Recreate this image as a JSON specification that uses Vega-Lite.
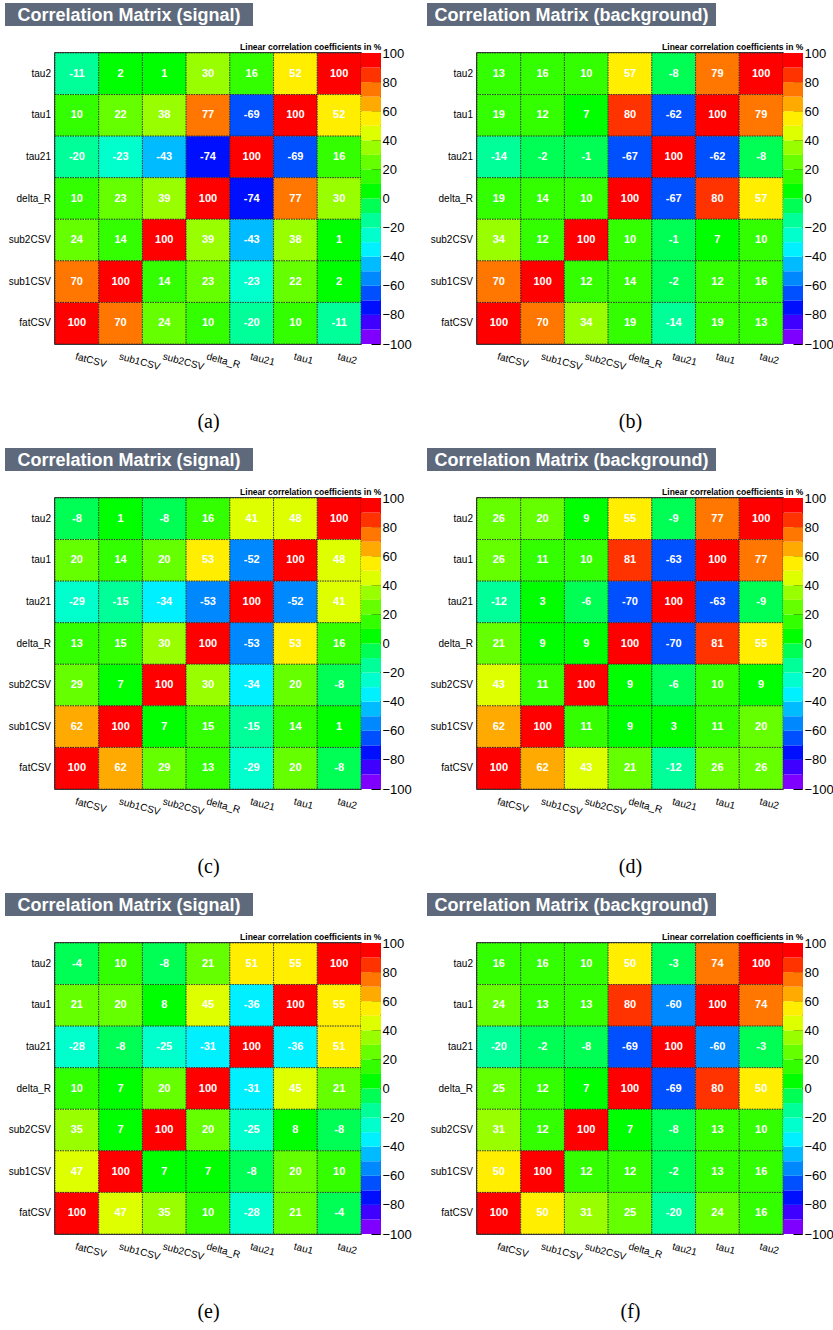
{
  "$schema": "https://vega.github.io/schema/vega-lite/v6.json",
  "padding": {"left": 5, "top": 3, "right": 0, "bottom": 0},
  "background": "white",
  "datasets": {
    "heads": [
      {"p": "a", "t": "Correlation Matrix (signal)"},
      {"p": "b", "t": "Correlation Matrix (background)"},
      {"p": "c", "t": "Correlation Matrix (signal)"},
      {"p": "d", "t": "Correlation Matrix (background)"},
      {"p": "e", "t": "Correlation Matrix (signal)"},
      {"p": "f", "t": "Correlation Matrix (background)"}
    ],
    "bins": [
      {"lo": -100, "hi": -90}, {"lo": -90, "hi": -80}, {"lo": -80, "hi": -70}, {"lo": -70, "hi": -60},
      {"lo": -60, "hi": -50}, {"lo": -50, "hi": -40}, {"lo": -40, "hi": -30}, {"lo": -30, "hi": -20},
      {"lo": -20, "hi": -10}, {"lo": -10, "hi": 0}, {"lo": 0, "hi": 10}, {"lo": 10, "hi": 20},
      {"lo": 20, "hi": 30}, {"lo": 30, "hi": 40}, {"lo": 40, "hi": 50}, {"lo": 50, "hi": 60},
      {"lo": 60, "hi": 70}, {"lo": 70, "hi": 80}, {"lo": 80, "hi": 90}, {"lo": 90, "hi": 100}
    ],
    "cells": [
      {"p":"a","r":"tau2","c":"fatCSV","v":-11},{"p":"a","r":"tau2","c":"sub1CSV","v":2},{"p":"a","r":"tau2","c":"sub2CSV","v":1},{"p":"a","r":"tau2","c":"delta_R","v":30},{"p":"a","r":"tau2","c":"tau21","v":16},{"p":"a","r":"tau2","c":"tau1","v":52},{"p":"a","r":"tau2","c":"tau2","v":100},
      {"p":"a","r":"tau1","c":"fatCSV","v":10},{"p":"a","r":"tau1","c":"sub1CSV","v":22},{"p":"a","r":"tau1","c":"sub2CSV","v":38},{"p":"a","r":"tau1","c":"delta_R","v":77},{"p":"a","r":"tau1","c":"tau21","v":-69},{"p":"a","r":"tau1","c":"tau1","v":100},{"p":"a","r":"tau1","c":"tau2","v":52},
      {"p":"a","r":"tau21","c":"fatCSV","v":-20},{"p":"a","r":"tau21","c":"sub1CSV","v":-23},{"p":"a","r":"tau21","c":"sub2CSV","v":-43},{"p":"a","r":"tau21","c":"delta_R","v":-74},{"p":"a","r":"tau21","c":"tau21","v":100},{"p":"a","r":"tau21","c":"tau1","v":-69},{"p":"a","r":"tau21","c":"tau2","v":16},
      {"p":"a","r":"delta_R","c":"fatCSV","v":10},{"p":"a","r":"delta_R","c":"sub1CSV","v":23},{"p":"a","r":"delta_R","c":"sub2CSV","v":39},{"p":"a","r":"delta_R","c":"delta_R","v":100},{"p":"a","r":"delta_R","c":"tau21","v":-74},{"p":"a","r":"delta_R","c":"tau1","v":77},{"p":"a","r":"delta_R","c":"tau2","v":30},
      {"p":"a","r":"sub2CSV","c":"fatCSV","v":24},{"p":"a","r":"sub2CSV","c":"sub1CSV","v":14},{"p":"a","r":"sub2CSV","c":"sub2CSV","v":100},{"p":"a","r":"sub2CSV","c":"delta_R","v":39},{"p":"a","r":"sub2CSV","c":"tau21","v":-43},{"p":"a","r":"sub2CSV","c":"tau1","v":38},{"p":"a","r":"sub2CSV","c":"tau2","v":1},
      {"p":"a","r":"sub1CSV","c":"fatCSV","v":70},{"p":"a","r":"sub1CSV","c":"sub1CSV","v":100},{"p":"a","r":"sub1CSV","c":"sub2CSV","v":14},{"p":"a","r":"sub1CSV","c":"delta_R","v":23},{"p":"a","r":"sub1CSV","c":"tau21","v":-23},{"p":"a","r":"sub1CSV","c":"tau1","v":22},{"p":"a","r":"sub1CSV","c":"tau2","v":2},
      {"p":"a","r":"fatCSV","c":"fatCSV","v":100},{"p":"a","r":"fatCSV","c":"sub1CSV","v":70},{"p":"a","r":"fatCSV","c":"sub2CSV","v":24},{"p":"a","r":"fatCSV","c":"delta_R","v":10},{"p":"a","r":"fatCSV","c":"tau21","v":-20},{"p":"a","r":"fatCSV","c":"tau1","v":10},{"p":"a","r":"fatCSV","c":"tau2","v":-11},

      {"p":"b","r":"tau2","c":"fatCSV","v":13},{"p":"b","r":"tau2","c":"sub1CSV","v":16},{"p":"b","r":"tau2","c":"sub2CSV","v":10},{"p":"b","r":"tau2","c":"delta_R","v":57},{"p":"b","r":"tau2","c":"tau21","v":-8},{"p":"b","r":"tau2","c":"tau1","v":79},{"p":"b","r":"tau2","c":"tau2","v":100},
      {"p":"b","r":"tau1","c":"fatCSV","v":19},{"p":"b","r":"tau1","c":"sub1CSV","v":12},{"p":"b","r":"tau1","c":"sub2CSV","v":7},{"p":"b","r":"tau1","c":"delta_R","v":80},{"p":"b","r":"tau1","c":"tau21","v":-62},{"p":"b","r":"tau1","c":"tau1","v":100},{"p":"b","r":"tau1","c":"tau2","v":79},
      {"p":"b","r":"tau21","c":"fatCSV","v":-14},{"p":"b","r":"tau21","c":"sub1CSV","v":-2},{"p":"b","r":"tau21","c":"sub2CSV","v":-1},{"p":"b","r":"tau21","c":"delta_R","v":-67},{"p":"b","r":"tau21","c":"tau21","v":100},{"p":"b","r":"tau21","c":"tau1","v":-62},{"p":"b","r":"tau21","c":"tau2","v":-8},
      {"p":"b","r":"delta_R","c":"fatCSV","v":19},{"p":"b","r":"delta_R","c":"sub1CSV","v":14},{"p":"b","r":"delta_R","c":"sub2CSV","v":10},{"p":"b","r":"delta_R","c":"delta_R","v":100},{"p":"b","r":"delta_R","c":"tau21","v":-67},{"p":"b","r":"delta_R","c":"tau1","v":80},{"p":"b","r":"delta_R","c":"tau2","v":57},
      {"p":"b","r":"sub2CSV","c":"fatCSV","v":34},{"p":"b","r":"sub2CSV","c":"sub1CSV","v":12},{"p":"b","r":"sub2CSV","c":"sub2CSV","v":100},{"p":"b","r":"sub2CSV","c":"delta_R","v":10},{"p":"b","r":"sub2CSV","c":"tau21","v":-1},{"p":"b","r":"sub2CSV","c":"tau1","v":7},{"p":"b","r":"sub2CSV","c":"tau2","v":10},
      {"p":"b","r":"sub1CSV","c":"fatCSV","v":70},{"p":"b","r":"sub1CSV","c":"sub1CSV","v":100},{"p":"b","r":"sub1CSV","c":"sub2CSV","v":12},{"p":"b","r":"sub1CSV","c":"delta_R","v":14},{"p":"b","r":"sub1CSV","c":"tau21","v":-2},{"p":"b","r":"sub1CSV","c":"tau1","v":12},{"p":"b","r":"sub1CSV","c":"tau2","v":16},
      {"p":"b","r":"fatCSV","c":"fatCSV","v":100},{"p":"b","r":"fatCSV","c":"sub1CSV","v":70},{"p":"b","r":"fatCSV","c":"sub2CSV","v":34},{"p":"b","r":"fatCSV","c":"delta_R","v":19},{"p":"b","r":"fatCSV","c":"tau21","v":-14},{"p":"b","r":"fatCSV","c":"tau1","v":19},{"p":"b","r":"fatCSV","c":"tau2","v":13},

      {"p":"c","r":"tau2","c":"fatCSV","v":-8},{"p":"c","r":"tau2","c":"sub1CSV","v":1},{"p":"c","r":"tau2","c":"sub2CSV","v":-8},{"p":"c","r":"tau2","c":"delta_R","v":16},{"p":"c","r":"tau2","c":"tau21","v":41},{"p":"c","r":"tau2","c":"tau1","v":48},{"p":"c","r":"tau2","c":"tau2","v":100},
      {"p":"c","r":"tau1","c":"fatCSV","v":20},{"p":"c","r":"tau1","c":"sub1CSV","v":14},{"p":"c","r":"tau1","c":"sub2CSV","v":20},{"p":"c","r":"tau1","c":"delta_R","v":53},{"p":"c","r":"tau1","c":"tau21","v":-52},{"p":"c","r":"tau1","c":"tau1","v":100},{"p":"c","r":"tau1","c":"tau2","v":48},
      {"p":"c","r":"tau21","c":"fatCSV","v":-29},{"p":"c","r":"tau21","c":"sub1CSV","v":-15},{"p":"c","r":"tau21","c":"sub2CSV","v":-34},{"p":"c","r":"tau21","c":"delta_R","v":-53},{"p":"c","r":"tau21","c":"tau21","v":100},{"p":"c","r":"tau21","c":"tau1","v":-52},{"p":"c","r":"tau21","c":"tau2","v":41},
      {"p":"c","r":"delta_R","c":"fatCSV","v":13},{"p":"c","r":"delta_R","c":"sub1CSV","v":15},{"p":"c","r":"delta_R","c":"sub2CSV","v":30},{"p":"c","r":"delta_R","c":"delta_R","v":100},{"p":"c","r":"delta_R","c":"tau21","v":-53},{"p":"c","r":"delta_R","c":"tau1","v":53},{"p":"c","r":"delta_R","c":"tau2","v":16},
      {"p":"c","r":"sub2CSV","c":"fatCSV","v":29},{"p":"c","r":"sub2CSV","c":"sub1CSV","v":7},{"p":"c","r":"sub2CSV","c":"sub2CSV","v":100},{"p":"c","r":"sub2CSV","c":"delta_R","v":30},{"p":"c","r":"sub2CSV","c":"tau21","v":-34},{"p":"c","r":"sub2CSV","c":"tau1","v":20},{"p":"c","r":"sub2CSV","c":"tau2","v":-8},
      {"p":"c","r":"sub1CSV","c":"fatCSV","v":62},{"p":"c","r":"sub1CSV","c":"sub1CSV","v":100},{"p":"c","r":"sub1CSV","c":"sub2CSV","v":7},{"p":"c","r":"sub1CSV","c":"delta_R","v":15},{"p":"c","r":"sub1CSV","c":"tau21","v":-15},{"p":"c","r":"sub1CSV","c":"tau1","v":14},{"p":"c","r":"sub1CSV","c":"tau2","v":1},
      {"p":"c","r":"fatCSV","c":"fatCSV","v":100},{"p":"c","r":"fatCSV","c":"sub1CSV","v":62},{"p":"c","r":"fatCSV","c":"sub2CSV","v":29},{"p":"c","r":"fatCSV","c":"delta_R","v":13},{"p":"c","r":"fatCSV","c":"tau21","v":-29},{"p":"c","r":"fatCSV","c":"tau1","v":20},{"p":"c","r":"fatCSV","c":"tau2","v":-8},

      {"p":"d","r":"tau2","c":"fatCSV","v":26},{"p":"d","r":"tau2","c":"sub1CSV","v":20},{"p":"d","r":"tau2","c":"sub2CSV","v":9},{"p":"d","r":"tau2","c":"delta_R","v":55},{"p":"d","r":"tau2","c":"tau21","v":-9},{"p":"d","r":"tau2","c":"tau1","v":77},{"p":"d","r":"tau2","c":"tau2","v":100},
      {"p":"d","r":"tau1","c":"fatCSV","v":26},{"p":"d","r":"tau1","c":"sub1CSV","v":11},{"p":"d","r":"tau1","c":"sub2CSV","v":10},{"p":"d","r":"tau1","c":"delta_R","v":81},{"p":"d","r":"tau1","c":"tau21","v":-63},{"p":"d","r":"tau1","c":"tau1","v":100},{"p":"d","r":"tau1","c":"tau2","v":77},
      {"p":"d","r":"tau21","c":"fatCSV","v":-12},{"p":"d","r":"tau21","c":"sub1CSV","v":3},{"p":"d","r":"tau21","c":"sub2CSV","v":-6},{"p":"d","r":"tau21","c":"delta_R","v":-70},{"p":"d","r":"tau21","c":"tau21","v":100},{"p":"d","r":"tau21","c":"tau1","v":-63},{"p":"d","r":"tau21","c":"tau2","v":-9},
      {"p":"d","r":"delta_R","c":"fatCSV","v":21},{"p":"d","r":"delta_R","c":"sub1CSV","v":9},{"p":"d","r":"delta_R","c":"sub2CSV","v":9},{"p":"d","r":"delta_R","c":"delta_R","v":100},{"p":"d","r":"delta_R","c":"tau21","v":-70},{"p":"d","r":"delta_R","c":"tau1","v":81},{"p":"d","r":"delta_R","c":"tau2","v":55},
      {"p":"d","r":"sub2CSV","c":"fatCSV","v":43},{"p":"d","r":"sub2CSV","c":"sub1CSV","v":11},{"p":"d","r":"sub2CSV","c":"sub2CSV","v":100},{"p":"d","r":"sub2CSV","c":"delta_R","v":9},{"p":"d","r":"sub2CSV","c":"tau21","v":-6},{"p":"d","r":"sub2CSV","c":"tau1","v":10},{"p":"d","r":"sub2CSV","c":"tau2","v":9},
      {"p":"d","r":"sub1CSV","c":"fatCSV","v":62},{"p":"d","r":"sub1CSV","c":"sub1CSV","v":100},{"p":"d","r":"sub1CSV","c":"sub2CSV","v":11},{"p":"d","r":"sub1CSV","c":"delta_R","v":9},{"p":"d","r":"sub1CSV","c":"tau21","v":3},{"p":"d","r":"sub1CSV","c":"tau1","v":11},{"p":"d","r":"sub1CSV","c":"tau2","v":20},
      {"p":"d","r":"fatCSV","c":"fatCSV","v":100},{"p":"d","r":"fatCSV","c":"sub1CSV","v":62},{"p":"d","r":"fatCSV","c":"sub2CSV","v":43},{"p":"d","r":"fatCSV","c":"delta_R","v":21},{"p":"d","r":"fatCSV","c":"tau21","v":-12},{"p":"d","r":"fatCSV","c":"tau1","v":26},{"p":"d","r":"fatCSV","c":"tau2","v":26},

      {"p":"e","r":"tau2","c":"fatCSV","v":-4},{"p":"e","r":"tau2","c":"sub1CSV","v":10},{"p":"e","r":"tau2","c":"sub2CSV","v":-8},{"p":"e","r":"tau2","c":"delta_R","v":21},{"p":"e","r":"tau2","c":"tau21","v":51},{"p":"e","r":"tau2","c":"tau1","v":55},{"p":"e","r":"tau2","c":"tau2","v":100},
      {"p":"e","r":"tau1","c":"fatCSV","v":21},{"p":"e","r":"tau1","c":"sub1CSV","v":20},{"p":"e","r":"tau1","c":"sub2CSV","v":8},{"p":"e","r":"tau1","c":"delta_R","v":45},{"p":"e","r":"tau1","c":"tau21","v":-36},{"p":"e","r":"tau1","c":"tau1","v":100},{"p":"e","r":"tau1","c":"tau2","v":55},
      {"p":"e","r":"tau21","c":"fatCSV","v":-28},{"p":"e","r":"tau21","c":"sub1CSV","v":-8},{"p":"e","r":"tau21","c":"sub2CSV","v":-25},{"p":"e","r":"tau21","c":"delta_R","v":-31},{"p":"e","r":"tau21","c":"tau21","v":100},{"p":"e","r":"tau21","c":"tau1","v":-36},{"p":"e","r":"tau21","c":"tau2","v":51},
      {"p":"e","r":"delta_R","c":"fatCSV","v":10},{"p":"e","r":"delta_R","c":"sub1CSV","v":7},{"p":"e","r":"delta_R","c":"sub2CSV","v":20},{"p":"e","r":"delta_R","c":"delta_R","v":100},{"p":"e","r":"delta_R","c":"tau21","v":-31},{"p":"e","r":"delta_R","c":"tau1","v":45},{"p":"e","r":"delta_R","c":"tau2","v":21},
      {"p":"e","r":"sub2CSV","c":"fatCSV","v":35},{"p":"e","r":"sub2CSV","c":"sub1CSV","v":7},{"p":"e","r":"sub2CSV","c":"sub2CSV","v":100},{"p":"e","r":"sub2CSV","c":"delta_R","v":20},{"p":"e","r":"sub2CSV","c":"tau21","v":-25},{"p":"e","r":"sub2CSV","c":"tau1","v":8},{"p":"e","r":"sub2CSV","c":"tau2","v":-8},
      {"p":"e","r":"sub1CSV","c":"fatCSV","v":47},{"p":"e","r":"sub1CSV","c":"sub1CSV","v":100},{"p":"e","r":"sub1CSV","c":"sub2CSV","v":7},{"p":"e","r":"sub1CSV","c":"delta_R","v":7},{"p":"e","r":"sub1CSV","c":"tau21","v":-8},{"p":"e","r":"sub1CSV","c":"tau1","v":20},{"p":"e","r":"sub1CSV","c":"tau2","v":10},
      {"p":"e","r":"fatCSV","c":"fatCSV","v":100},{"p":"e","r":"fatCSV","c":"sub1CSV","v":47},{"p":"e","r":"fatCSV","c":"sub2CSV","v":35},{"p":"e","r":"fatCSV","c":"delta_R","v":10},{"p":"e","r":"fatCSV","c":"tau21","v":-28},{"p":"e","r":"fatCSV","c":"tau1","v":21},{"p":"e","r":"fatCSV","c":"tau2","v":-4},

      {"p":"f","r":"tau2","c":"fatCSV","v":16},{"p":"f","r":"tau2","c":"sub1CSV","v":16},{"p":"f","r":"tau2","c":"sub2CSV","v":10},{"p":"f","r":"tau2","c":"delta_R","v":50},{"p":"f","r":"tau2","c":"tau21","v":-3},{"p":"f","r":"tau2","c":"tau1","v":74},{"p":"f","r":"tau2","c":"tau2","v":100},
      {"p":"f","r":"tau1","c":"fatCSV","v":24},{"p":"f","r":"tau1","c":"sub1CSV","v":13},{"p":"f","r":"tau1","c":"sub2CSV","v":13},{"p":"f","r":"tau1","c":"delta_R","v":80},{"p":"f","r":"tau1","c":"tau21","v":-60},{"p":"f","r":"tau1","c":"tau1","v":100},{"p":"f","r":"tau1","c":"tau2","v":74},
      {"p":"f","r":"tau21","c":"fatCSV","v":-20},{"p":"f","r":"tau21","c":"sub1CSV","v":-2},{"p":"f","r":"tau21","c":"sub2CSV","v":-8},{"p":"f","r":"tau21","c":"delta_R","v":-69},{"p":"f","r":"tau21","c":"tau21","v":100},{"p":"f","r":"tau21","c":"tau1","v":-60},{"p":"f","r":"tau21","c":"tau2","v":-3},
      {"p":"f","r":"delta_R","c":"fatCSV","v":25},{"p":"f","r":"delta_R","c":"sub1CSV","v":12},{"p":"f","r":"delta_R","c":"sub2CSV","v":7},{"p":"f","r":"delta_R","c":"delta_R","v":100},{"p":"f","r":"delta_R","c":"tau21","v":-69},{"p":"f","r":"delta_R","c":"tau1","v":80},{"p":"f","r":"delta_R","c":"tau2","v":50},
      {"p":"f","r":"sub2CSV","c":"fatCSV","v":31},{"p":"f","r":"sub2CSV","c":"sub1CSV","v":12},{"p":"f","r":"sub2CSV","c":"sub2CSV","v":100},{"p":"f","r":"sub2CSV","c":"delta_R","v":7},{"p":"f","r":"sub2CSV","c":"tau21","v":-8},{"p":"f","r":"sub2CSV","c":"tau1","v":13},{"p":"f","r":"sub2CSV","c":"tau2","v":10},
      {"p":"f","r":"sub1CSV","c":"fatCSV","v":50},{"p":"f","r":"sub1CSV","c":"sub1CSV","v":100},{"p":"f","r":"sub1CSV","c":"sub2CSV","v":12},{"p":"f","r":"sub1CSV","c":"delta_R","v":12},{"p":"f","r":"sub1CSV","c":"tau21","v":-2},{"p":"f","r":"sub1CSV","c":"tau1","v":13},{"p":"f","r":"sub1CSV","c":"tau2","v":16},
      {"p":"f","r":"fatCSV","c":"fatCSV","v":100},{"p":"f","r":"fatCSV","c":"sub1CSV","v":50},{"p":"f","r":"fatCSV","c":"sub2CSV","v":31},{"p":"f","r":"fatCSV","c":"delta_R","v":25},{"p":"f","r":"fatCSV","c":"tau21","v":-20},{"p":"f","r":"fatCSV","c":"tau1","v":24},{"p":"f","r":"fatCSV","c":"tau2","v":16}
    ]
  },
  "spacing": 15,
  "vconcat": [
    {"hconcat": [
      {"spacing": 16, "vconcat": [
        {"width": 248, "height": 23, "view": {"fill": "#5e6a7b", "stroke": null}, "data": {"name": "heads"}, "transform": [{"filter": "datum.p == 'a'"}],
         "mark": {"type": "text", "color": "white", "fontWeight": "bold", "fontSize": 18, "align": "center", "baseline": "middle", "dy": 1}, "encoding": {"text": {"field": "t"}}},
        {"bounds": "flush", "spacing": 0, "hconcat": [
          {"width": 50, "height": 291, "data": {"name": "cells"}, "transform": [{"filter": "datum.p == 'a' && datum.c == 'fatCSV'"}],
           "mark": {"type": "text", "align": "right", "baseline": "middle", "dx": -4, "fontSize": 10, "color": "black"},
           "encoding": {"y": {"field": "r", "type": "nominal", "sort": ["tau2","tau1","tau21","delta_R","sub2CSV","sub1CSV","fatCSV"], "scale": {"paddingInner": 0, "paddingOuter": 0}, "axis": null},
                        "x": {"value": "width"}, "text": {"field": "r"}}},
          {"width": 306, "height": 291, "view": {"stroke": "black", "strokeWidth": 1.5}, "data": {"name": "cells"}, "transform": [{"filter": "datum.p == 'a'"}],
           "title": {"text": "Linear correlation coefficients in %", "anchor": "end", "dx": 20, "dy": 8, "offset": 2, "baseline": "alphabetic", "fontSize": 8.5, "fontWeight": "bold", "color": "black"},
           "encoding": {
             "x": {"field": "c", "type": "nominal", "sort": ["fatCSV","sub1CSV","sub2CSV","delta_R","tau21","tau1","tau2"], "scale": {"paddingInner": 0, "paddingOuter": 0},
                   "axis": {"title": "(a)", "labelAngle": 15, "labelAlign": "left", "labelBaseline": "top", "labelPadding": 7, "labelFontSize": 10, "ticks": false, "domain": false, "titleFont": "Liberation Serif", "titleFontSize": 20, "titleFontWeight": "normal", "titlePadding": 40}},
             "y": {"field": "r", "type": "nominal", "sort": ["tau2","tau1","tau21","delta_R","sub2CSV","sub1CSV","fatCSV"], "scale": {"paddingInner": 0, "paddingOuter": 0}, "axis": null}
           },
           "layer": [
             {"mark": {"type": "rect", "stroke": "#1a1a1a", "strokeWidth": 0.7, "strokeDash": [1.5, 1]},
              "encoding": {"color": {"field": "v", "type": "quantitative", "legend": null, "scale": {"type": "threshold", "domain": [-90,-80,-70,-60,-50,-40,-30,-20,-10,0,10,20,30,40,50,60,70,80,90], "range": ["#7f00ff","#4000ff","#0010ff","#0050ff","#0088ff","#00bbff","#00f0ff","#00ffcc","#00ff99","#00ff55","#00ff00","#33ff00","#66ff00","#99ff00","#ddff00","#ffee00","#ffaa00","#ff7700","#ff3300","#ff0000"]}}}},
             {"mark": {"type": "text", "color": "white", "fontWeight": "bold", "fontSize": 11}, "encoding": {"text": {"field": "v", "type": "nominal"}}}
           ]},
          {"width": 19, "height": 291, "data": {"name": "bins"}, "mark": {"type": "rect", "xOffset": 1},
           "encoding": {
             "y": {"field": "lo", "type": "quantitative", "scale": {"domain": [-100, 100], "nice": false, "zero": false},
                   "axis": {"orient": "right", "title": null, "values": [-100,-80,-60,-40,-20,0,20,40,60,80,100], "grid": false, "tickSize": -9, "tickColor": "black", "domainColor": "black", "labelPadding": 11, "labelFontSize": 13, "labelFlush": false}},
             "y2": {"field": "hi"},
             "color": {"field": "lo", "type": "quantitative", "legend": null, "scale": {"type": "threshold", "domain": [-90,-80,-70,-60,-50,-40,-30,-20,-10,0,10,20,30,40,50,60,70,80,90], "range": ["#7f00ff","#4000ff","#0010ff","#0050ff","#0088ff","#00bbff","#00f0ff","#00ffcc","#00ff99","#00ff55","#00ff00","#33ff00","#66ff00","#99ff00","#ddff00","#ffee00","#ffaa00","#ff7700","#ff3300","#ff0000"]}}
           }}
        ]}
      ]},
      {"spacing": 16, "vconcat": [
        {"width": 289, "height": 23, "view": {"fill": "#5e6a7b", "stroke": null}, "data": {"name": "heads"}, "transform": [{"filter": "datum.p == 'b'"}],
         "mark": {"type": "text", "color": "white", "fontWeight": "bold", "fontSize": 18, "align": "center", "baseline": "middle", "dy": 1}, "encoding": {"text": {"field": "t"}}},
        {"bounds": "flush", "spacing": 0, "hconcat": [
          {"width": 50, "height": 291, "data": {"name": "cells"}, "transform": [{"filter": "datum.p == 'b' && datum.c == 'fatCSV'"}],
           "mark": {"type": "text", "align": "right", "baseline": "middle", "dx": -4, "fontSize": 10, "color": "black"},
           "encoding": {"y": {"field": "r", "type": "nominal", "sort": ["tau2","tau1","tau21","delta_R","sub2CSV","sub1CSV","fatCSV"], "scale": {"paddingInner": 0, "paddingOuter": 0}, "axis": null},
                        "x": {"value": "width"}, "text": {"field": "r"}}},
          {"width": 306, "height": 291, "view": {"stroke": "black", "strokeWidth": 1.5}, "data": {"name": "cells"}, "transform": [{"filter": "datum.p == 'b'"}],
           "title": {"text": "Linear correlation coefficients in %", "anchor": "end", "dx": 20, "dy": 8, "offset": 2, "baseline": "alphabetic", "fontSize": 8.5, "fontWeight": "bold", "color": "black"},
           "encoding": {
             "x": {"field": "c", "type": "nominal", "sort": ["fatCSV","sub1CSV","sub2CSV","delta_R","tau21","tau1","tau2"], "scale": {"paddingInner": 0, "paddingOuter": 0},
                   "axis": {"title": "(b)", "labelAngle": 15, "labelAlign": "left", "labelBaseline": "top", "labelPadding": 7, "labelFontSize": 10, "ticks": false, "domain": false, "titleFont": "Liberation Serif", "titleFontSize": 20, "titleFontWeight": "normal", "titlePadding": 40}},
             "y": {"field": "r", "type": "nominal", "sort": ["tau2","tau1","tau21","delta_R","sub2CSV","sub1CSV","fatCSV"], "scale": {"paddingInner": 0, "paddingOuter": 0}, "axis": null}
           },
           "layer": [
             {"mark": {"type": "rect", "stroke": "#1a1a1a", "strokeWidth": 0.7, "strokeDash": [1.5, 1]},
              "encoding": {"color": {"field": "v", "type": "quantitative", "legend": null, "scale": {"type": "threshold", "domain": [-90,-80,-70,-60,-50,-40,-30,-20,-10,0,10,20,30,40,50,60,70,80,90], "range": ["#7f00ff","#4000ff","#0010ff","#0050ff","#0088ff","#00bbff","#00f0ff","#00ffcc","#00ff99","#00ff55","#00ff00","#33ff00","#66ff00","#99ff00","#ddff00","#ffee00","#ffaa00","#ff7700","#ff3300","#ff0000"]}}}},
             {"mark": {"type": "text", "color": "white", "fontWeight": "bold", "fontSize": 11}, "encoding": {"text": {"field": "v", "type": "nominal"}}}
           ]},
          {"width": 19, "height": 291, "data": {"name": "bins"}, "mark": {"type": "rect", "xOffset": 1},
           "encoding": {
             "y": {"field": "lo", "type": "quantitative", "scale": {"domain": [-100, 100], "nice": false, "zero": false},
                   "axis": {"orient": "right", "title": null, "values": [-100,-80,-60,-40,-20,0,20,40,60,80,100], "grid": false, "tickSize": -9, "tickColor": "black", "domainColor": "black", "labelPadding": 11, "labelFontSize": 13, "labelFlush": false}},
             "y2": {"field": "hi"},
             "color": {"field": "lo", "type": "quantitative", "legend": null, "scale": {"type": "threshold", "domain": [-90,-80,-70,-60,-50,-40,-30,-20,-10,0,10,20,30,40,50,60,70,80,90], "range": ["#7f00ff","#4000ff","#0010ff","#0050ff","#0088ff","#00bbff","#00f0ff","#00ffcc","#00ff99","#00ff55","#00ff00","#33ff00","#66ff00","#99ff00","#ddff00","#ffee00","#ffaa00","#ff7700","#ff3300","#ff0000"]}}
           }}
        ]}
      ]}
    ], "spacing": 15},
    {"hconcat": [
      {"spacing": 16, "vconcat": [
        {"width": 248, "height": 23, "view": {"fill": "#5e6a7b", "stroke": null}, "data": {"name": "heads"}, "transform": [{"filter": "datum.p == 'c'"}],
         "mark": {"type": "text", "color": "white", "fontWeight": "bold", "fontSize": 18, "align": "center", "baseline": "middle", "dy": 1}, "encoding": {"text": {"field": "t"}}},
        {"bounds": "flush", "spacing": 0, "hconcat": [
          {"width": 50, "height": 291, "data": {"name": "cells"}, "transform": [{"filter": "datum.p == 'c' && datum.c == 'fatCSV'"}],
           "mark": {"type": "text", "align": "right", "baseline": "middle", "dx": -4, "fontSize": 10, "color": "black"},
           "encoding": {"y": {"field": "r", "type": "nominal", "sort": ["tau2","tau1","tau21","delta_R","sub2CSV","sub1CSV","fatCSV"], "scale": {"paddingInner": 0, "paddingOuter": 0}, "axis": null},
                        "x": {"value": "width"}, "text": {"field": "r"}}},
          {"width": 306, "height": 291, "view": {"stroke": "black", "strokeWidth": 1.5}, "data": {"name": "cells"}, "transform": [{"filter": "datum.p == 'c'"}],
           "title": {"text": "Linear correlation coefficients in %", "anchor": "end", "dx": 20, "dy": 8, "offset": 2, "baseline": "alphabetic", "fontSize": 8.5, "fontWeight": "bold", "color": "black"},
           "encoding": {
             "x": {"field": "c", "type": "nominal", "sort": ["fatCSV","sub1CSV","sub2CSV","delta_R","tau21","tau1","tau2"], "scale": {"paddingInner": 0, "paddingOuter": 0},
                   "axis": {"title": "(c)", "labelAngle": 15, "labelAlign": "left", "labelBaseline": "top", "labelPadding": 7, "labelFontSize": 10, "ticks": false, "domain": false, "titleFont": "Liberation Serif", "titleFontSize": 20, "titleFontWeight": "normal", "titlePadding": 40}},
             "y": {"field": "r", "type": "nominal", "sort": ["tau2","tau1","tau21","delta_R","sub2CSV","sub1CSV","fatCSV"], "scale": {"paddingInner": 0, "paddingOuter": 0}, "axis": null}
           },
           "layer": [
             {"mark": {"type": "rect", "stroke": "#1a1a1a", "strokeWidth": 0.7, "strokeDash": [1.5, 1]},
              "encoding": {"color": {"field": "v", "type": "quantitative", "legend": null, "scale": {"type": "threshold", "domain": [-90,-80,-70,-60,-50,-40,-30,-20,-10,0,10,20,30,40,50,60,70,80,90], "range": ["#7f00ff","#4000ff","#0010ff","#0050ff","#0088ff","#00bbff","#00f0ff","#00ffcc","#00ff99","#00ff55","#00ff00","#33ff00","#66ff00","#99ff00","#ddff00","#ffee00","#ffaa00","#ff7700","#ff3300","#ff0000"]}}}},
             {"mark": {"type": "text", "color": "white", "fontWeight": "bold", "fontSize": 11}, "encoding": {"text": {"field": "v", "type": "nominal"}}}
           ]},
          {"width": 19, "height": 291, "data": {"name": "bins"}, "mark": {"type": "rect", "xOffset": 1},
           "encoding": {
             "y": {"field": "lo", "type": "quantitative", "scale": {"domain": [-100, 100], "nice": false, "zero": false},
                   "axis": {"orient": "right", "title": null, "values": [-100,-80,-60,-40,-20,0,20,40,60,80,100], "grid": false, "tickSize": -9, "tickColor": "black", "domainColor": "black", "labelPadding": 11, "labelFontSize": 13, "labelFlush": false}},
             "y2": {"field": "hi"},
             "color": {"field": "lo", "type": "quantitative", "legend": null, "scale": {"type": "threshold", "domain": [-90,-80,-70,-60,-50,-40,-30,-20,-10,0,10,20,30,40,50,60,70,80,90], "range": ["#7f00ff","#4000ff","#0010ff","#0050ff","#0088ff","#00bbff","#00f0ff","#00ffcc","#00ff99","#00ff55","#00ff00","#33ff00","#66ff00","#99ff00","#ddff00","#ffee00","#ffaa00","#ff7700","#ff3300","#ff0000"]}}
           }}
        ]}
      ]},
      {"spacing": 16, "vconcat": [
        {"width": 289, "height": 23, "view": {"fill": "#5e6a7b", "stroke": null}, "data": {"name": "heads"}, "transform": [{"filter": "datum.p == 'd'"}],
         "mark": {"type": "text", "color": "white", "fontWeight": "bold", "fontSize": 18, "align": "center", "baseline": "middle", "dy": 1}, "encoding": {"text": {"field": "t"}}},
        {"bounds": "flush", "spacing": 0, "hconcat": [
          {"width": 50, "height": 291, "data": {"name": "cells"}, "transform": [{"filter": "datum.p == 'd' && datum.c == 'fatCSV'"}],
           "mark": {"type": "text", "align": "right", "baseline": "middle", "dx": -4, "fontSize": 10, "color": "black"},
           "encoding": {"y": {"field": "r", "type": "nominal", "sort": ["tau2","tau1","tau21","delta_R","sub2CSV","sub1CSV","fatCSV"], "scale": {"paddingInner": 0, "paddingOuter": 0}, "axis": null},
                        "x": {"value": "width"}, "text": {"field": "r"}}},
          {"width": 306, "height": 291, "view": {"stroke": "black", "strokeWidth": 1.5}, "data": {"name": "cells"}, "transform": [{"filter": "datum.p == 'd'"}],
           "title": {"text": "Linear correlation coefficients in %", "anchor": "end", "dx": 20, "dy": 8, "offset": 2, "baseline": "alphabetic", "fontSize": 8.5, "fontWeight": "bold", "color": "black"},
           "encoding": {
             "x": {"field": "c", "type": "nominal", "sort": ["fatCSV","sub1CSV","sub2CSV","delta_R","tau21","tau1","tau2"], "scale": {"paddingInner": 0, "paddingOuter": 0},
                   "axis": {"title": "(d)", "labelAngle": 15, "labelAlign": "left", "labelBaseline": "top", "labelPadding": 7, "labelFontSize": 10, "ticks": false, "domain": false, "titleFont": "Liberation Serif", "titleFontSize": 20, "titleFontWeight": "normal", "titlePadding": 40}},
             "y": {"field": "r", "type": "nominal", "sort": ["tau2","tau1","tau21","delta_R","sub2CSV","sub1CSV","fatCSV"], "scale": {"paddingInner": 0, "paddingOuter": 0}, "axis": null}
           },
           "layer": [
             {"mark": {"type": "rect", "stroke": "#1a1a1a", "strokeWidth": 0.7, "strokeDash": [1.5, 1]},
              "encoding": {"color": {"field": "v", "type": "quantitative", "legend": null, "scale": {"type": "threshold", "domain": [-90,-80,-70,-60,-50,-40,-30,-20,-10,0,10,20,30,40,50,60,70,80,90], "range": ["#7f00ff","#4000ff","#0010ff","#0050ff","#0088ff","#00bbff","#00f0ff","#00ffcc","#00ff99","#00ff55","#00ff00","#33ff00","#66ff00","#99ff00","#ddff00","#ffee00","#ffaa00","#ff7700","#ff3300","#ff0000"]}}}},
             {"mark": {"type": "text", "color": "white", "fontWeight": "bold", "fontSize": 11}, "encoding": {"text": {"field": "v", "type": "nominal"}}}
           ]},
          {"width": 19, "height": 291, "data": {"name": "bins"}, "mark": {"type": "rect", "xOffset": 1},
           "encoding": {
             "y": {"field": "lo", "type": "quantitative", "scale": {"domain": [-100, 100], "nice": false, "zero": false},
                   "axis": {"orient": "right", "title": null, "values": [-100,-80,-60,-40,-20,0,20,40,60,80,100], "grid": false, "tickSize": -9, "tickColor": "black", "domainColor": "black", "labelPadding": 11, "labelFontSize": 13, "labelFlush": false}},
             "y2": {"field": "hi"},
             "color": {"field": "lo", "type": "quantitative", "legend": null, "scale": {"type": "threshold", "domain": [-90,-80,-70,-60,-50,-40,-30,-20,-10,0,10,20,30,40,50,60,70,80,90], "range": ["#7f00ff","#4000ff","#0010ff","#0050ff","#0088ff","#00bbff","#00f0ff","#00ffcc","#00ff99","#00ff55","#00ff00","#33ff00","#66ff00","#99ff00","#ddff00","#ffee00","#ffaa00","#ff7700","#ff3300","#ff0000"]}}
           }}
        ]}
      ]}
    ], "spacing": 15},
    {"hconcat": [
      {"spacing": 16, "vconcat": [
        {"width": 248, "height": 23, "view": {"fill": "#5e6a7b", "stroke": null}, "data": {"name": "heads"}, "transform": [{"filter": "datum.p == 'e'"}],
         "mark": {"type": "text", "color": "white", "fontWeight": "bold", "fontSize": 18, "align": "center", "baseline": "middle", "dy": 1}, "encoding": {"text": {"field": "t"}}},
        {"bounds": "flush", "spacing": 0, "hconcat": [
          {"width": 50, "height": 291, "data": {"name": "cells"}, "transform": [{"filter": "datum.p == 'e' && datum.c == 'fatCSV'"}],
           "mark": {"type": "text", "align": "right", "baseline": "middle", "dx": -4, "fontSize": 10, "color": "black"},
           "encoding": {"y": {"field": "r", "type": "nominal", "sort": ["tau2","tau1","tau21","delta_R","sub2CSV","sub1CSV","fatCSV"], "scale": {"paddingInner": 0, "paddingOuter": 0}, "axis": null},
                        "x": {"value": "width"}, "text": {"field": "r"}}},
          {"width": 306, "height": 291, "view": {"stroke": "black", "strokeWidth": 1.5}, "data": {"name": "cells"}, "transform": [{"filter": "datum.p == 'e'"}],
           "title": {"text": "Linear correlation coefficients in %", "anchor": "end", "dx": 20, "dy": 8, "offset": 2, "baseline": "alphabetic", "fontSize": 8.5, "fontWeight": "bold", "color": "black"},
           "encoding": {
             "x": {"field": "c", "type": "nominal", "sort": ["fatCSV","sub1CSV","sub2CSV","delta_R","tau21","tau1","tau2"], "scale": {"paddingInner": 0, "paddingOuter": 0},
                   "axis": {"title": "(e)", "labelAngle": 15, "labelAlign": "left", "labelBaseline": "top", "labelPadding": 7, "labelFontSize": 10, "ticks": false, "domain": false, "titleFont": "Liberation Serif", "titleFontSize": 20, "titleFontWeight": "normal", "titlePadding": 40}},
             "y": {"field": "r", "type": "nominal", "sort": ["tau2","tau1","tau21","delta_R","sub2CSV","sub1CSV","fatCSV"], "scale": {"paddingInner": 0, "paddingOuter": 0}, "axis": null}
           },
           "layer": [
             {"mark": {"type": "rect", "stroke": "#1a1a1a", "strokeWidth": 0.7, "strokeDash": [1.5, 1]},
              "encoding": {"color": {"field": "v", "type": "quantitative", "legend": null, "scale": {"type": "threshold", "domain": [-90,-80,-70,-60,-50,-40,-30,-20,-10,0,10,20,30,40,50,60,70,80,90], "range": ["#7f00ff","#4000ff","#0010ff","#0050ff","#0088ff","#00bbff","#00f0ff","#00ffcc","#00ff99","#00ff55","#00ff00","#33ff00","#66ff00","#99ff00","#ddff00","#ffee00","#ffaa00","#ff7700","#ff3300","#ff0000"]}}}},
             {"mark": {"type": "text", "color": "white", "fontWeight": "bold", "fontSize": 11}, "encoding": {"text": {"field": "v", "type": "nominal"}}}
           ]},
          {"width": 19, "height": 291, "data": {"name": "bins"}, "mark": {"type": "rect", "xOffset": 1},
           "encoding": {
             "y": {"field": "lo", "type": "quantitative", "scale": {"domain": [-100, 100], "nice": false, "zero": false},
                   "axis": {"orient": "right", "title": null, "values": [-100,-80,-60,-40,-20,0,20,40,60,80,100], "grid": false, "tickSize": -9, "tickColor": "black", "domainColor": "black", "labelPadding": 11, "labelFontSize": 13, "labelFlush": false}},
             "y2": {"field": "hi"},
             "color": {"field": "lo", "type": "quantitative", "legend": null, "scale": {"type": "threshold", "domain": [-90,-80,-70,-60,-50,-40,-30,-20,-10,0,10,20,30,40,50,60,70,80,90], "range": ["#7f00ff","#4000ff","#0010ff","#0050ff","#0088ff","#00bbff","#00f0ff","#00ffcc","#00ff99","#00ff55","#00ff00","#33ff00","#66ff00","#99ff00","#ddff00","#ffee00","#ffaa00","#ff7700","#ff3300","#ff0000"]}}
           }}
        ]}
      ]},
      {"spacing": 16, "vconcat": [
        {"width": 289, "height": 23, "view": {"fill": "#5e6a7b", "stroke": null}, "data": {"name": "heads"}, "transform": [{"filter": "datum.p == 'f'"}],
         "mark": {"type": "text", "color": "white", "fontWeight": "bold", "fontSize": 18, "align": "center", "baseline": "middle", "dy": 1}, "encoding": {"text": {"field": "t"}}},
        {"bounds": "flush", "spacing": 0, "hconcat": [
          {"width": 50, "height": 291, "data": {"name": "cells"}, "transform": [{"filter": "datum.p == 'f' && datum.c == 'fatCSV'"}],
           "mark": {"type": "text", "align": "right", "baseline": "middle", "dx": -4, "fontSize": 10, "color": "black"},
           "encoding": {"y": {"field": "r", "type": "nominal", "sort": ["tau2","tau1","tau21","delta_R","sub2CSV","sub1CSV","fatCSV"], "scale": {"paddingInner": 0, "paddingOuter": 0}, "axis": null},
                        "x": {"value": "width"}, "text": {"field": "r"}}},
          {"width": 306, "height": 291, "view": {"stroke": "black", "strokeWidth": 1.5}, "data": {"name": "cells"}, "transform": [{"filter": "datum.p == 'f'"}],
           "title": {"text": "Linear correlation coefficients in %", "anchor": "end", "dx": 20, "dy": 8, "offset": 2, "baseline": "alphabetic", "fontSize": 8.5, "fontWeight": "bold", "color": "black"},
           "encoding": {
             "x": {"field": "c", "type": "nominal", "sort": ["fatCSV","sub1CSV","sub2CSV","delta_R","tau21","tau1","tau2"], "scale": {"paddingInner": 0, "paddingOuter": 0},
                   "axis": {"title": "(f)", "labelAngle": 15, "labelAlign": "left", "labelBaseline": "top", "labelPadding": 7, "labelFontSize": 10, "ticks": false, "domain": false, "titleFont": "Liberation Serif", "titleFontSize": 20, "titleFontWeight": "normal", "titlePadding": 40}},
             "y": {"field": "r", "type": "nominal", "sort": ["tau2","tau1","tau21","delta_R","sub2CSV","sub1CSV","fatCSV"], "scale": {"paddingInner": 0, "paddingOuter": 0}, "axis": null}
           },
           "layer": [
             {"mark": {"type": "rect", "stroke": "#1a1a1a", "strokeWidth": 0.7, "strokeDash": [1.5, 1]},
              "encoding": {"color": {"field": "v", "type": "quantitative", "legend": null, "scale": {"type": "threshold", "domain": [-90,-80,-70,-60,-50,-40,-30,-20,-10,0,10,20,30,40,50,60,70,80,90], "range": ["#7f00ff","#4000ff","#0010ff","#0050ff","#0088ff","#00bbff","#00f0ff","#00ffcc","#00ff99","#00ff55","#00ff00","#33ff00","#66ff00","#99ff00","#ddff00","#ffee00","#ffaa00","#ff7700","#ff3300","#ff0000"]}}}},
             {"mark": {"type": "text", "color": "white", "fontWeight": "bold", "fontSize": 11}, "encoding": {"text": {"field": "v", "type": "nominal"}}}
           ]},
          {"width": 19, "height": 291, "data": {"name": "bins"}, "mark": {"type": "rect", "xOffset": 1},
           "encoding": {
             "y": {"field": "lo", "type": "quantitative", "scale": {"domain": [-100, 100], "nice": false, "zero": false},
                   "axis": {"orient": "right", "title": null, "values": [-100,-80,-60,-40,-20,0,20,40,60,80,100], "grid": false, "tickSize": -9, "tickColor": "black", "domainColor": "black", "labelPadding": 11, "labelFontSize": 13, "labelFlush": false}},
             "y2": {"field": "hi"},
             "color": {"field": "lo", "type": "quantitative", "legend": null, "scale": {"type": "threshold", "domain": [-90,-80,-70,-60,-50,-40,-30,-20,-10,0,10,20,30,40,50,60,70,80,90], "range": ["#7f00ff","#4000ff","#0010ff","#0050ff","#0088ff","#00bbff","#00f0ff","#00ffcc","#00ff99","#00ff55","#00ff00","#33ff00","#66ff00","#99ff00","#ddff00","#ffee00","#ffaa00","#ff7700","#ff3300","#ff0000"]}}
           }}
        ]}
      ]}
    ], "spacing": 15}
  ],
  "config": {
    "font": "Liberation Sans",
    "view": {"stroke": null},
    "axis": {"labelColor": "black", "titleColor": "black", "labelFont": "Liberation Sans"},
    "title": {"color": "black", "font": "Liberation Sans"}
  }
}
